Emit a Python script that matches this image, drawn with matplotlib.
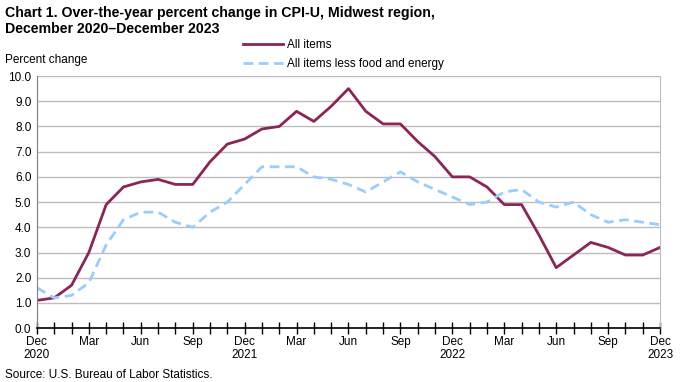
import matplotlib
matplotlib.use('Agg')
import matplotlib.pyplot as plt
import numpy as np

plt.rcParams['font.family'] = ['Liberation Sans', 'DejaVu Sans']

# Data (Dec 2020 - Dec 2023, monthly)
all_items = [1.1, 1.2, 1.7, 3.0, 4.9, 5.6, 5.8, 5.9, 5.7, 5.7, 6.6, 7.3,
             7.5, 7.9, 8.0, 8.6, 8.2, 8.8, 9.5, 8.6, 8.1, 8.1, 7.4, 6.8,
             6.0, 6.0, 5.6, 4.9, 4.9, 3.7, 2.4, 2.9, 3.4, 3.2, 2.9, 2.9, 3.2]
core = [1.6, 1.2, 1.3, 1.8, 3.3, 4.3, 4.6, 4.6, 4.2, 4.0, 4.6, 5.0,
        5.7, 6.4, 6.4, 6.4, 6.0, 5.9, 5.7, 5.4, 5.8, 6.2, 5.8, 5.5,
        5.2, 4.9, 5.0, 5.4, 5.5, 5.0, 4.8, 5.0, 4.5, 4.2, 4.3, 4.2, 4.1]
tick_labels = ['Dec\n2020', 'Mar', 'Jun', 'Sep', 'Dec\n2021', 'Mar', 'Jun', 'Sep',
               'Dec\n2022', 'Mar', 'Jun', 'Sep', 'Dec\n2023']

x = np.arange(len(all_items))

fig = plt.figure(figsize=(6.84, 3.82), dpi=100)
ax = fig.add_axes([0.054, 0.141, 0.911, 0.66])

ax.set_axisbelow(True)
ax.grid(axis='y', color='#bdbdbd', linewidth=1)
ax.plot(x, all_items, color='#8c2458', linewidth=2, label='All items')
ax.plot(x, core, color='#99ccff', linewidth=2, linestyle=(0, (3.5, 2)),
        label='All items less food and energy')

ax.set_xlim(0, len(x) - 1)
ax.set_ylim(0, 10)
ax.set_yticks(np.arange(0, 10.1, 1.0))
ax.set_yticklabels([f'{v:.1f}' for v in np.arange(0, 10.1, 1.0)], fontsize=8.5)
ax.set_xticks(x, minor=True)
ax.set_xticks(x[::3])
ax.set_xticklabels(tick_labels, fontsize=8.5, linespacing=1.1)
ax.tick_params(axis='x', which='both', direction='inout', length=8, width=1, color='black', pad=2)
ax.tick_params(axis='y', length=0, pad=4)

ax.spines['top'].set_visible(False)
ax.spines['right'].set_color('#bdbdbd')
ax.spines['left'].set_color('#808080')
ax.spines['bottom'].set_color('black')
ax.spines['bottom'].set_linewidth(1.2)

fig.legend(*ax.get_legend_handles_labels(), loc='upper left',
           bbox_to_anchor=(0.355, 0.897), frameon=False, fontsize=8.5,
           handlelength=3.4, handletextpad=0.35, labelspacing=0.55,
           borderaxespad=0, borderpad=0)

fig.text(0.007, 0.985, 'Chart 1. Over-the-year percent change in CPI-U, Midwest region,\nDecember 2020\u2013December 2023',
         fontsize=10.2, fontweight='bold', va='top', ha='left', linespacing=1.2)
fig.text(0.007, 0.827, 'Percent change', fontsize=8.5, va='bottom', ha='left')
fig.text(0.007, 0.003, 'Source: U.S. Bureau of Labor Statistics.', fontsize=8.5, va='bottom', ha='left')

fig.savefig('out.png', dpi=100)
